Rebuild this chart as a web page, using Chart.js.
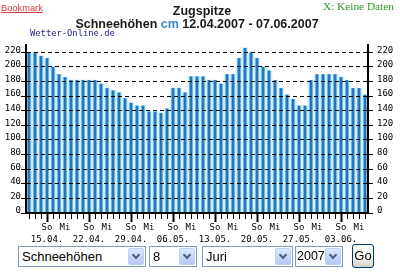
<!DOCTYPE html>
<html><head><meta charset="utf-8">
<script src="https://cdn.jsdelivr.net/npm/chart.js@4/dist/chart.umd.min.js"></script>
<style>
html,body{margin:0;padding:0;background:#fff;}
body{width:400px;height:274px;position:relative;overflow:hidden;font-family:"Liberation Sans",Arial,sans-serif;}
#c{position:absolute;left:0;top:0;}
.abs{position:absolute;white-space:nowrap;}
#bm{left:1px;top:3px;font-size:9.3px;line-height:11px;color:#d23c3c;text-decoration:underline;}
#nd{left:323px;top:0px;font-family:"Liberation Serif",serif;font-size:11.3px;line-height:13px;color:#2f952f;}
.t{width:400px;text-align:center;font-weight:bold;font-size:12.5px;line-height:15px;color:#1a1a1a;}
#t1{top:4px;left:2px;}
#t2{top:17px;left:-3px;}
#t2 .cm{color:#3c8cc4;}
#wo{left:30px;top:28px;font-family:"DejaVu Sans Mono",monospace;font-size:8.8px;line-height:10px;color:#1c1c8c;}
.sel{position:absolute;top:246px;height:19px;border:1px solid #7f9db9;background:#fff;font-size:13px;line-height:19px;color:#000;}
.sel .txt{position:absolute;left:3px;top:0;white-space:nowrap;}
.sel .arr{position:absolute;right:1px;top:1px;width:14px;height:15px;border:1px solid #bcd0f5;border-radius:2px;background:linear-gradient(#dde8fe,#b5c9f5);}
.sel .arr:after{content:"";position:absolute;left:4px;top:3px;width:4px;height:4px;border-right:2px solid #4d6185;border-bottom:2px solid #4d6185;transform:rotate(45deg);}
#go{position:absolute;left:352px;top:244px;width:20px;height:22px;border:1px solid #003c74;border-radius:3px;background:linear-gradient(#ffffff,#f3f2ec 60%,#d6d0c5);font-size:13px;line-height:22px;text-align:center;color:#000;}
</style>
</head>
<body>
<canvas id="c" width="400" height="274"></canvas>
<div class="abs" id="bm">Bookmark</div>
<div class="abs" id="nd">X: Keine Daten</div>
<div class="abs t" id="t1">Zugspitze</div>
<div class="abs t" id="t2">Schneehöhen <span class="cm">cm</span> 12.04.2007 - 07.06.2007</div>
<div class="abs" id="wo">Wetter-Online.de</div>
<div class="sel" style="left:18px;width:126px;"><span class="txt">Schneehöhen</span><span class="arr"></span></div>
<div class="sel" style="left:149px;width:46px;"><span class="txt">8</span><span class="arr"></span></div>
<div class="sel" style="left:202px;width:89px;"><span class="txt">Juri</span><span class="arr"></span></div>
<div class="sel" style="left:295px;width:46px;"><span class="txt" style="left:1px;font-size:12.5px;">2007</span><span class="arr"></span></div>
<div id="go">Go</div>
<script>
const categories = [
  '12.04.','13.04.','14.04.','15.04.','16.04.','17.04.','18.04.','19.04.','20.04.','21.04.',
  '22.04.','23.04.','24.04.','25.04.','26.04.','27.04.','28.04.','29.04.','30.04.',
  '01.05.','02.05.','03.05.','04.05.','05.05.','06.05.','07.05.','08.05.','09.05.','10.05.',
  '11.05.','12.05.','13.05.','14.05.','15.05.','16.05.','17.05.','18.05.','19.05.','20.05.',
  '21.05.','22.05.','23.05.','24.05.','25.05.','26.05.','27.05.','28.05.','29.05.','30.05.','31.05.',
  '01.06.','02.06.','03.06.','04.06.','05.06.','06.06.','07.06.'
];
const snowDepth = [
  220,220,215,212,200,190,186,182,182,182,
  182,182,177,171,168,165,157,151,147,
  147,139,139,137,143,171,171,165,187,187,
  187,182,182,177,190,190,212,226,220,212,
  200,195,182,171,162,156,147,147,182,190,190,
  190,190,186,182,171,171,162
];
const sundays = ['15.04.','22.04.','29.04.','06.05.','13.05.','20.05.','27.05.','03.06.'];
const wednesdays = ['18.04.','25.04.','02.05.','09.05.','16.05.','23.05.','30.05.','06.06.'];
const yTickValues = [0,20,40,60,80,100,120,140,160,180,200,220];

const monoFont = {family: 'DejaVu Sans Mono', size: 9, lineHeight: 1.3};
const isSun = i => i !== undefined && sundays.includes(categories[i]);
const setTicks = s => { s.ticks = yTickValues.map(v => ({value: v})); };

new Chart(document.getElementById('c'), {
  type: 'bar',
  data: {
    labels: categories,
    datasets: [
      {data: snowDepth, backgroundColor: '#2776bb', barPercentage: 0.5, categoryPercentage: 1, grouped: false, order: 0},
      {data: snowDepth, backgroundColor: '#c9f1ff', barPercentage: 1, categoryPercentage: 1, grouped: false, order: 1}
    ]
  },
  options: {
    responsive: false,
    animation: false,
    layout: {padding: {top: 45, left: 0, right: 0, bottom: 0}},
    plugins: {legend: {display: false}, tooltip: {enabled: false}, title: {display: false}},
    scales: {
      x: {
        offset: true,
        grid: {
          z: 1,
          offset: false,
          drawOnChartArea: false,
          drawTicks: true,
          tickLength: 9,
          tickColor: '#000',
          tickWidth: c => isSun(c.index) ? 2 : 1,
          tickBorderDash: c => isSun(c.index) ? [] : [5, 30]
        },
        border: {display: true, color: '#000', width: 2, z: 2},
        ticks: {
          z: 1,
          autoSkip: false, maxRotation: 0, minRotation: 0, padding: 0, color: '#000', font: monoFont,
          callback: (v, i) => sundays.includes(categories[i]) ? ['So', categories[i]] : (wednesdays.includes(categories[i]) ? 'Mi' : '')
        },
        afterFit: s => { s.height = 61; }
      },
      y: {
        position: 'left',
        min: 0, max: 230,
        afterBuildTicks: setTicks,
        ticks: {z: 1, padding: 0, labelOffset: -2, color: '#000', font: monoFont},
        grid: {
          z: 1,
          color: c => (c.tick && c.tick.value === 0) ? 'rgba(0,0,0,0)' : '#000',
          lineWidth: 1, tickLength: 5, tickColor: '#000', tickWidth: 1, borderDash: [4, 3]
        },
        border: {display: true, color: '#000', width: 2, dash: [4, 3], z: 2},
        afterFit: s => { s.width = 26; }
      },
      y2: {
        position: 'right',
        min: 0, max: 230,
        afterBuildTicks: setTicks,
        ticks: {z: 1, padding: 4, labelOffset: -2, color: '#000', font: monoFont},
        grid: {z: 1, drawOnChartArea: false, tickLength: 5, tickColor: '#000', tickWidth: 1},
        border: {display: true, color: '#000', width: 2, z: 2},
        afterFit: s => { s.width = 32; }
      }
    }
  }
});
</script>
</body></html>
